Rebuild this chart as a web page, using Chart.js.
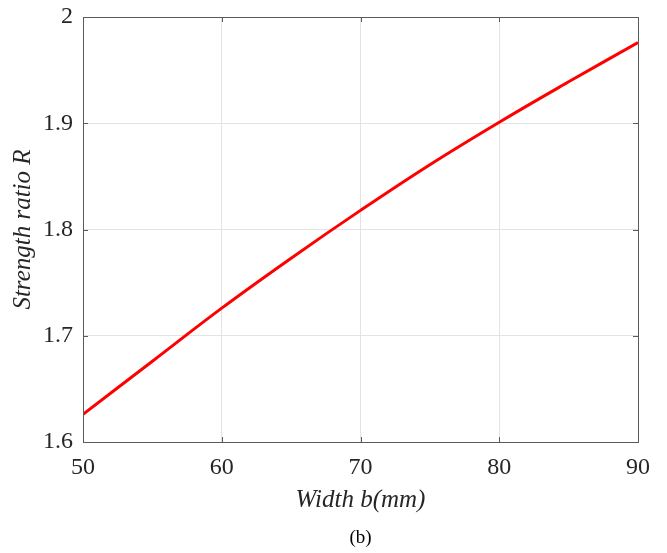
<!DOCTYPE html>
<html>
<head>
<meta charset="utf-8">
<script src="https://cdn.jsdelivr.net/npm/chart.js@4/dist/chart.umd.min.js"></script>
<style>
  html, body { margin: 0; padding: 0; background: #fff; }
  #wrap { width: 667px; height: 553px; }
</style>
</head>
<body>
<div id="wrap"><canvas id="ratio"></canvas></div>
<script>
// width b (mm) and strength ratio R
const widths = [50, 55, 60, 65, 70, 75, 80, 85, 90];
const ratios = [1.626, 1.676, 1.726, 1.773, 1.818, 1.861, 1.901, 1.939, 1.976];

const xTicks = [50, 60, 70, 80, 90];
const yTicks = [1.6, 1.7, 1.8, 1.9, 2.0];

const serif = 'Liberation Serif';
const boxColor = '#5a5a5a';

// MATLAB style box with inward ticks on all four sides, plus the (b) caption
const boxPlugin = {
    id: 'boxTicks',
    afterDraw(chart) {
        const ctx = chart.ctx;
        const a = chart.chartArea;
        const xs = chart.scales.x, ys = chart.scales.y;
        const len = 5;
        ctx.save();
        ctx.strokeStyle = boxColor;
        ctx.lineWidth = 1;
        ctx.strokeRect(Math.round(a.left) + 0.5, Math.round(a.top) + 0.5,
            Math.round(a.right - a.left), Math.round(a.bottom - a.top));
        ctx.beginPath();
        xTicks.forEach(function (v) {
            const px = Math.round(xs.getPixelForValue(v)) + 0.5;
            ctx.moveTo(px, a.bottom); ctx.lineTo(px, a.bottom - len);
            ctx.moveTo(px, a.top); ctx.lineTo(px, a.top + len);
        });
        yTicks.forEach(function (v) {
            const py = Math.round(ys.getPixelForValue(v)) + 0.5;
            ctx.moveTo(a.left, py); ctx.lineTo(a.left + len, py);
            ctx.moveTo(a.right, py); ctx.lineTo(a.right - len, py);
        });
        ctx.stroke();

        ctx.fillStyle = '#000';
        ctx.font = '19px "' + serif + '"';
        ctx.textAlign = 'center';
        ctx.textBaseline = 'middle';
        ctx.fillText('(b)', (a.left + a.right) / 2, 538);
        ctx.restore();
    }
};

document.addEventListener('DOMContentLoaded', function () {
    new Chart(document.getElementById('ratio'), {
        type: 'line',
        data: {
            labels: widths,
            datasets: [{
                data: widths.map(function (w, i) { return { x: w, y: ratios[i] }; }),
                borderColor: '#ff0000',
                borderWidth: 3,
                pointRadius: 0,
                fill: false,
                tension: 0.4
            }]
        },
        options: {
            responsive: true,
            maintainAspectRatio: false,
            animation: false,
            layout: { autoPadding: false, padding: { left: 0, right: 29, top: 17, bottom: 0 } },
            plugins: {
                legend: { display: false },
                tooltip: { enabled: false },
                title: { display: false }
            },
            scales: {
                x: {
                    type: 'linear',
                    min: 50,
                    max: 90,
                    afterFit: function (s) { s.height = 111; s.paddingLeft = 0; s.paddingRight = 0; },
                    afterBuildTicks: function (s) { s.ticks = xTicks.map(function (v) { return { value: v }; }); },
                    border: { display: false },
                    grid: { color: '#e3e3e3', drawTicks: false },
                    ticks: {
                        color: '#262626',
                        padding: 11,
                        maxRotation: 0,
                        font: { family: serif, size: 24 }
                    },
                    title: {
                        display: true,
                        text: 'Width b(mm)',
                        color: '#262626',
                        font: { family: serif, size: 25, style: 'italic' },
                        padding: { top: 0, bottom: 38 }
                    }
                },
                y: {
                    min: 1.6,
                    max: 2.0,
                    afterFit: function (s) { s.width = 83; s.paddingTop = 0; s.paddingBottom = 0; },
                    afterBuildTicks: function (s) { s.ticks = yTicks.map(function (v) { return { value: v }; }); },
                    border: { display: false },
                    grid: { color: '#e3e3e3', drawTicks: false },
                    ticks: {
                        color: '#262626',
                        padding: 10,
                        font: { family: serif, size: 24 },
                        callback: function (v) { return String(Math.round(v * 10) / 10); }
                    },
                    title: {
                        display: true,
                        text: 'Strength ratio R',
                        color: '#262626',
                        font: { family: serif, size: 25, style: 'italic' },
                        padding: { top: 8, bottom: 0 }
                    }
                }
            }
        },
        plugins: [boxPlugin]
    });
});
</script>
</body>
</html>
